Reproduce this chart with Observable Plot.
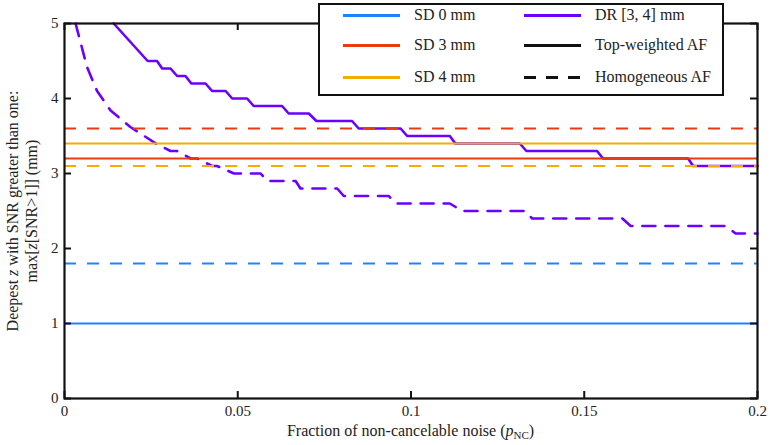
<!DOCTYPE html>
<html>
<head>
<meta charset="utf-8">
<script src="https://cdn.jsdelivr.net/npm/d3@7"></script>
<script src="https://cdn.jsdelivr.net/npm/@observablehq/plot@0.6"></script>
</head>
<body style="margin:0;background:#fff">
<div id="chart" style="position:relative;width:770px;height:445px;font-family:'Liberation Serif',serif;color:#222"></div>
<script>
// ticks
const xTicks = [0, 0.05, 0.1, 0.15, 0.2];
const yTicks = [0, 1, 2, 3, 4, 5];

// constant-offset curves (SD), top-weighted vs homogeneous AF
const sdNames = ["SD 0 mm", "SD 3 mm", "SD 4 mm"];
const sdColors = ["#1f83ff", "#ea3a10", "#f2ad00"];
const sdTop = [1.0, 3.2, 3.4];
const sdHom = [1.8, 3.6, 3.1];

// DR [3,4] mm curves
const drColor = "#6b00ff";
const drTopX = [0.0142, 0.024, 0.0267, 0.0282, 0.0306, 0.0325, 0.0349, 0.0366, 0.0407, 0.0426, 0.0465, 0.0484, 0.0527, 0.0546, 0.0628, 0.0647, 0.0705, 0.0727, 0.083, 0.0849, 0.097, 0.0989, 0.1112, 0.1128, 0.1314, 0.1333, 0.1537, 0.1554, 0.18, 0.1814, 0.2];
const drTopY = [5.0, 4.5, 4.5, 4.4, 4.4, 4.3, 4.3, 4.2, 4.2, 4.1, 4.1, 4.0, 4.0, 3.9, 3.9, 3.8, 3.8, 3.7, 3.7, 3.6, 3.6, 3.5, 3.5, 3.4, 3.4, 3.3, 3.3, 3.2, 3.2, 3.1, 3.1];
const drHomX = [0.0032, 0.0065, 0.0094, 0.0133, 0.019, 0.0267, 0.0306, 0.0325, 0.0364, 0.0383, 0.0426, 0.044, 0.0489, 0.0566, 0.0585, 0.0667, 0.0681, 0.0787, 0.0806, 0.0936, 0.0955, 0.1112, 0.1148, 0.133, 0.135, 0.161, 0.1634, 0.1908, 0.1937, 0.2];
const drHomY = [5.0, 4.42, 4.1, 3.84, 3.62, 3.39, 3.3, 3.3, 3.2, 3.2, 3.1, 3.1, 3.0, 3.0, 2.9, 2.9, 2.8, 2.8, 2.7, 2.7, 2.6, 2.6, 2.5, 2.5, 2.4, 2.4, 2.3, 2.3, 2.2, 2.2];

const sdRows = sdNames.map((name, i) => ({name, color: sdColors[i], top: sdTop[i], hom: sdHom[i]}));
const drTop = drTopX.map((x, i) => ({x, y: drTopY[i]}));
const drHom = drHomX.map((x, i) => ({x, y: drHomY[i]}));

const W = 770, H = 445;
const mL = 64, mR = 13, mT = 23, mB = 47;
const frameH = H - mT - mB, frameW = W - mL - mR;
const tick = 7;

let chart = Plot.plot({
  width: W,
  height: H,
  marginLeft: mL,
  marginRight: mR,
  marginTop: mT,
  marginBottom: mB,
  x: {domain: [0, 0.2], ticks: xTicks, label: null},
  y: {domain: [0, 5], ticks: yTicks, label: null},
  color: {type: "identity"},
  style: {fontFamily: "Liberation Serif, serif", fontSize: "15px", color: "#222"},
  marks: [
    Plot.line(drTop, {x: "x", y: "y", stroke: drColor, strokeWidth: 2.6}),
    Plot.line(drHom, {x: "x", y: "y", stroke: drColor, strokeWidth: 2.6, strokeDasharray: "13,10"}),
    Plot.ruleY(sdRows, {y: "top", stroke: "color", strokeWidth: 2.2}),
    Plot.ruleY(sdRows, {y: "hom", stroke: "color", strokeWidth: 2.2, strokeDasharray: "12,11"}),
    // inward ticks on all four sides
    Plot.tickX(xTicks, {x: d => d, stroke: "#111", strokeWidth: 2, insetTop: frameH - tick}),
    Plot.tickX(xTicks, {x: d => d, stroke: "#111", strokeWidth: 2, insetBottom: frameH - tick}),
    Plot.tickY(yTicks, {y: d => d, stroke: "#111", strokeWidth: 2, insetRight: frameW - tick}),
    Plot.tickY(yTicks, {y: d => d, stroke: "#111", strokeWidth: 2, insetLeft: frameW - tick}),
    Plot.axisX({ticks: xTicks, tickSize: 0, tickPadding: 7, tickFormat: d => String(d), label: null}),
    Plot.axisY({ticks: yTicks, tickSize: 0, tickPadding: 6, tickFormat: d => String(d), label: null}),
    Plot.frame({stroke: "#111", strokeWidth: 2.2})
  ]
});

const box = d3.select("#chart");
box.append(() => chart);

// axis labels as HTML text laid over the svg
const midX = mL + frameW / 2, midY = mT + frameH / 2;
box.append("div")
  .style("position", "absolute").style("left", midX + "px").style("top", "423px")
  .style("transform", "translateX(-50%)").style("white-space", "nowrap")
  .style("font-size", "16px").style("line-height", "16px")
  .html('Fraction of non-cancelable noise (<i>p</i><span style="font-size:11px;vertical-align:-3px">NC</span>)');

[[13, 'Deepest <i>z</i> with SNR greater than one:'],
 [32, 'max[<i>z</i>[SNR&gt;1]] (mm)']].forEach(([cx, html]) => {
  box.append("div")
    .style("position", "absolute").style("left", cx + "px").style("top", midY + "px")
    .style("transform", "translate(-50%,-50%) rotate(-90deg)").style("white-space", "nowrap")
    .style("font-size", "16px").style("line-height", "16px")
    .html(html);
});

// legend box
const legendItems = [
  {label: "SD 0 mm", color: sdColors[0], dash: false, col: 0, row: 0},
  {label: "SD 3 mm", color: sdColors[1], dash: false, col: 0, row: 1},
  {label: "SD 4 mm", color: sdColors[2], dash: false, col: 0, row: 2},
  {label: "DR [3, 4] mm", color: drColor, dash: false, col: 1, row: 0},
  {label: "Top-weighted AF", color: "#111", dash: false, col: 1, row: 1},
  {label: "Homogeneous AF", color: "#111", dash: true, col: 1, row: 2}
];
const lg = box.append("div")
  .style("position", "absolute").style("left", "318px").style("top", "3px")
  .style("width", "406px").style("height", "93px").style("box-sizing", "border-box")
  .style("border", "2px solid #111").style("background", "#fff");
const colX = [23, 204];
const rowY = [10, 40, 72];
legendItems.forEach(d => {
  const lx = colX[d.col], ly = rowY[d.row];
  lg.append("div")
    .style("position", "absolute").style("left", lx + "px").style("top", (ly - 1.5) + "px")
    .style("width", "57px").style("height", "3px")
    .style("background", d.dash
      ? `repeating-linear-gradient(90deg, ${d.color} 0 12px, transparent 12px 22px)`
      : d.color);
  lg.append("div")
    .style("position", "absolute").style("left", (lx + 71) + "px").style("top", (ly - 9) + "px")
    .style("white-space", "nowrap").style("font-size", "16px").style("line-height", "18px")
    .text(d.label);
});
</script>
</body>
</html>
